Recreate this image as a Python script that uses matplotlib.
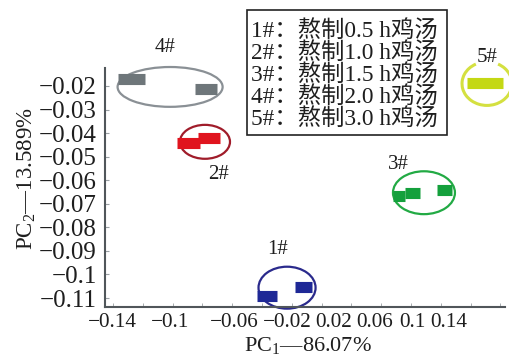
import matplotlib
matplotlib.use("Agg")
import matplotlib.pyplot as plt
from matplotlib.patches import Ellipse, Arc, Rectangle

plt.rcParams['font.family'] = ['Liberation Serif', 'Noto Sans CJK SC', 'DejaVu Sans']
plt.rcParams['mathtext.fontset'] = 'custom'
plt.rcParams['mathtext.rm'] = 'Liberation Serif'

# ---- data ----
groups = ['1#', '2#', '3#', '4#', '5#']
legend_labels = ['1#：熬制0.5 h鸡汤', '2#：熬制1.0 h鸡汤', '3#：熬制1.5 h鸡汤',
                 '4#：熬制2.0 h鸡汤', '5#：熬制3.0 h鸡汤']
# bar segments for sample scores (PC1 start, PC1 end, PC2)
bar_x0 = {'1#': [-0.0434, -0.0179], '2#': [-0.0970, -0.0830], '3#': [0.0479, 0.0560, 0.0774],
          '4#': [-0.1366, -0.0850], '5#': [0.0976]}
bar_x1 = {'1#': [-0.0299, -0.0064], '2#': [-0.0816, -0.0682], '3#': [0.0559, 0.0660, 0.0875],
          '4#': [-0.1185, -0.0702], '5#': [0.1217]}
bar_y = {'1#': [-0.1090, -0.1052], '2#': [-0.0442, -0.0420], '3#': [-0.0666, -0.0653, -0.0641],
         '4#': [-0.0170, -0.0213], '5#': [-0.0187]}
# group ellipses: centre, width, height
ell_cx = {'1#': -0.0232, '2#': -0.0783, '3#': 0.0687, '4#': -0.1017, '5#': 0.1110}
ell_cy = {'1#': -0.1056, '2#': -0.0437, '3#': -0.0653, '4#': -0.0204, '5#': -0.0190}
ell_w = {'1#': 0.0383, '2#': 0.0336, '3#': 0.0416, '4#': 0.0705, '5#': 0.0335}
ell_h = {'1#': 0.0178, '2#': 0.0144, '3#': 0.0182, '4#': 0.0169, '5#': 0.0185}
# group label positions
lab_x = {'1#': -0.0299, '2#': -0.0695, '3#': 0.0513, '4#': -0.1051, '5#': 0.1110}
lab_y = {'1#': -0.0895, '2#': -0.0577, '3#': -0.0535, '4#': -0.0035, '5#': -0.0081}

xtick_minor = [-0.14, -0.12, -0.10, -0.08, -0.06, -0.04, -0.02, 0.00, 0.02, 0.04, 0.06, 0.08, 0.10, 0.12]
xtick_pos = [-0.1407, -0.1017, -0.0587, -0.0232, 0.0083, 0.0358, 0.0607, 0.0855]
xtick_labels = ['−0.14', '−0.1', '−0.06', '−0.02', '0.02', '0.06', '0.1', '0.14']
ytick_pos = [-0.02, -0.03, -0.04, -0.05, -0.06, -0.07, -0.08, -0.09, -0.10, -0.11]
ytick_labels = ['−0.02', '−0.03', '−0.04', '−0.05', '−0.06', '−0.07', '−0.08', '−0.09', '−0.1', '−0.11']

bar_colors = {'1#': '#1e2896', '2#': '#e0141e', '3#': '#14a03c', '4#': '#6e767a', '5#': '#c4d814'}
ell_colors = {'1#': '#2a2a8c', '2#': '#a01c2a', '3#': '#22aa44', '4#': '#8a9095', '5#': '#d4e040'}

fig = plt.figure(figsize=(5.10, 3.58), dpi=100)
ax = fig.add_axes([105/510, 1-307/358, 400/510, 239/358])
ax.set_xlim(-0.1454, 0.1231)
ax.set_ylim(-0.1138, -0.01237)

txt = '#1e1e1e'
for g in groups:
    for x0, x1, y in zip(bar_x0[g], bar_x1[g], bar_y[g]):
        ax.plot([x0, x1], [y, y], color=bar_colors[g], lw=8, solid_capstyle='butt',
                clip_on=False, zorder=3)
    if g == '5#':
        p = Arc((ell_cx[g], ell_cy[g]), ell_w[g], ell_h[g], theta1=132, theta2=408,
                color=ell_colors[g], lw=2.2, clip_on=False)
    else:
        p = Ellipse((ell_cx[g], ell_cy[g]), ell_w[g], ell_h[g], fill=False,
                    edgecolor=ell_colors[g], lw=1.6, clip_on=False)
    ax.add_patch(p)
    ax.text(lab_x[g], lab_y[g], g, ha='center', va='center', fontsize=15, color=txt,
            clip_on=False)

for s in ['top', 'right']:
    ax.spines[s].set_visible(False)
for s in ['left', 'bottom']:
    ax.spines[s].set_color('#50565a')
    ax.spines[s].set_linewidth(1.5)

ax.set_xticks(xtick_pos, xtick_labels, fontsize=15.3, color=txt)
ax.set_xticks(xtick_minor, minor=True)
ax.tick_params(axis='x', which='major', length=0, pad=4)
ax.tick_params(axis='x', which='minor', direction='in', length=3, color='#9aa0a4')
ax.set_yticks(ytick_pos, ytick_labels, fontsize=18, color=txt)
ax.tick_params(axis='y', which='major', direction='in', length=3, color='#9aa0a4', pad=6)

fig.text(27/510, 1-179/358, 'PC$_2$—13.589%', rotation=90, ha='center', va='center',
         fontsize=16.5, color=txt)
fig.text(308/510, 1-346/358, 'PC$_1$—86.07%', ha='center', va='center',
         fontsize=16, color=txt)

# legend box
fig.patches.append(Rectangle((247/510, 1-135/358), 200/510, 125/358, transform=fig.transFigure,
                             fill=False, edgecolor='#222222', lw=1.2))
for i, lab in enumerate(legend_labels):
    fig.text(251/510, 1-(31 + 22*i)/358, lab, ha='left', va='center', fontsize=16.8, color=txt)

fig.savefig('out.png', dpi=100)
